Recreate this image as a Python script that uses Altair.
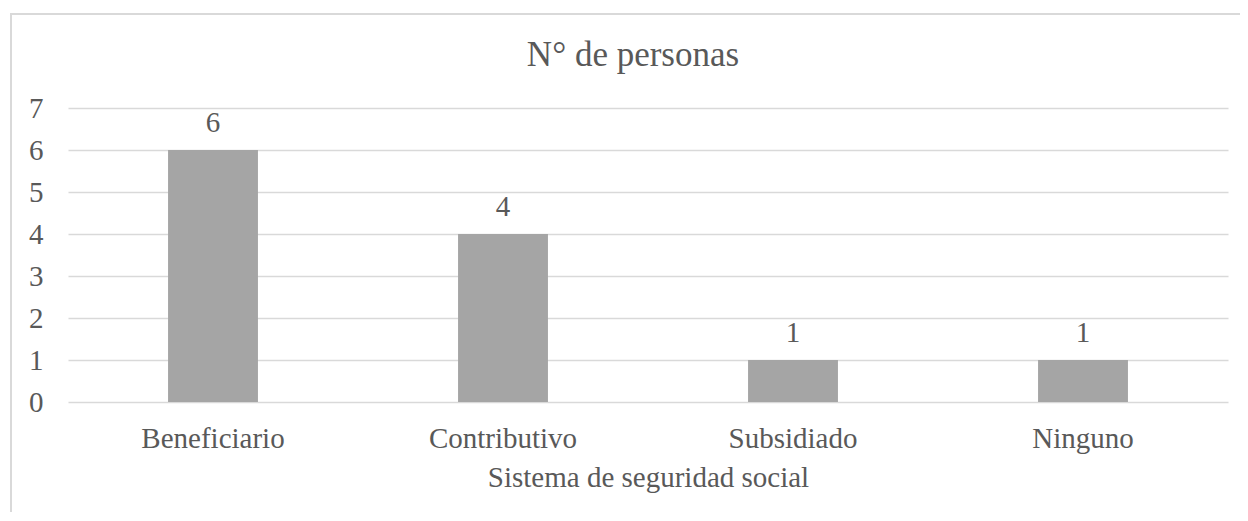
import altair as alt
import pandas as pd

categories = ["Beneficiario", "Contributivo", "Subsidiado", "Ninguno"]
values = [6, 4, 1, 1]
y_ticks = [0, 1, 2, 3, 4, 5, 6, 7]
chart_title = "N° de personas"
x_title = "Sistema de seguridad social"

FONT = "Liberation Serif"
TXT = "#595959"
GRID = "#d9d9d9"
BAR = "#a5a5a5"

df = pd.DataFrame({"cat": categories, "n": values})

xenc = alt.X(
    "cat:N",
    sort=categories,
    title=x_title,
    scale=alt.Scale(paddingInner=0.69, paddingOuter=0.345),
    axis=alt.Axis(labelAngle=0, labelFontSize=29, labelFont=FONT, labelColor=TXT,
                  domain=False, ticks=False, labelPadding=22,
                  titleFont=FONT, titleFontSize=29, titleFontWeight="normal",
                  titleColor=TXT, titlePadding=10),
)
yenc = alt.Y(
    "n:Q",
    title=None,
    scale=alt.Scale(domain=[0, 7], nice=False),
    axis=alt.Axis(values=y_ticks, labelFontSize=29, labelFont=FONT, labelColor=TXT,
                  domain=False, ticks=False, labelPadding=25, grid=True,
                  gridColor=GRID, gridWidth=1.3, format="d"),
)

bars = alt.Chart(df).mark_bar(color=BAR).encode(x=xenc, y=yenc)
labels = alt.Chart(df).mark_text(dy=-18, baseline="alphabetic", fontSize=29,
                                 font=FONT, color=TXT).encode(
    x=alt.X("cat:N", sort=categories), y="n:Q", text="n:Q")

title = alt.Chart(pd.DataFrame({"t": [chart_title]})).mark_text(
    fontSize=35, font=FONT, color=TXT, baseline="alphabetic", align="center"
).encode(text="t:N", x=alt.value(565), y=alt.value(-42))

border = alt.Chart(pd.DataFrame({"a": [0]})).mark_rect(
    fillOpacity=0, stroke=GRID, strokeWidth=2
).encode(x=alt.value(-57), x2=alt.value(1300), y=alt.value(-94), y2=alt.value(500))

chart = alt.layer(border, bars, labels, title).properties(
    width=1160, height=294,
    autosize=alt.AutoSizeParams(type="none"),
    padding={"left": 60, "top": 100, "right": 12, "bottom": 110},
    background="white",
).configure_view(stroke=None)

chart.save("out.html", embed_options={"renderer": "svg", "actions": False})
